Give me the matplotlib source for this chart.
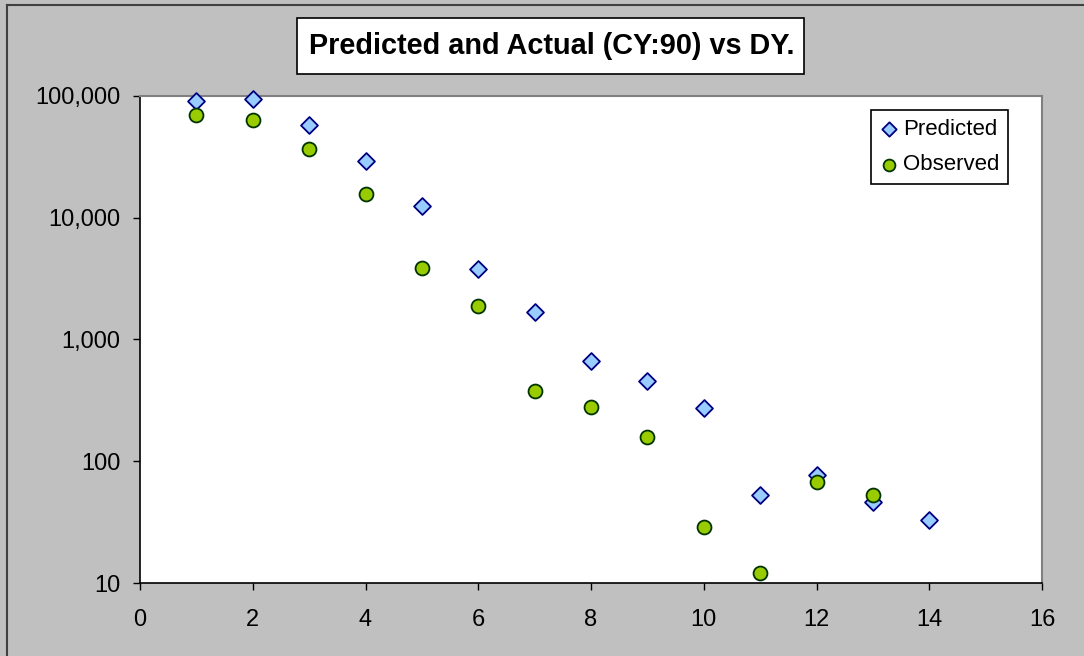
import matplotlib
matplotlib.use("Agg")
import matplotlib.pyplot as plt
from matplotlib.lines import Line2D
from matplotlib.patches import Rectangle
from matplotlib.ticker import FuncFormatter, FixedLocator, NullLocator

plt.rcParams['font.family'] = ['Liberation Sans', 'DejaVu Sans']

# development year vs. claim amounts for CY 90
dev_years_pred = [1, 2, 3, 4, 5, 6, 7, 8, 9, 10, 11, 12, 13, 14]
predicted = [91000, 94500, 57800, 29200, 12500, 3800, 1680, 666, 456, 274, 53, 77, 46, 33]

dev_years_obs = [1, 2, 3, 4, 5, 6, 7, 8, 9, 10, 11, 12, 13]
observed = [69800, 63500, 36700, 15700, 3860, 1880, 378, 279, 158, 28.8, 12.1, 67.6, 52.8]

title = "Predicted and Actual (CY:90) vs DY."
x_ticks = [0, 2, 4, 6, 8, 10, 12, 14, 16]
y_ticks = [10, 100, 1000, 10000, 100000]

W, H = 1084, 656
fig = plt.figure(figsize=(W / 100, H / 100), dpi=100, facecolor='#C0C0C0')

# outer chart border, only the top and left edges sit inside the image
fig.lines.append(Line2D([7 / W, 7 / W], [0, 1 - 5 / H], transform=fig.transFigure,
                        color='#404040', linewidth=1.5))
fig.lines.append(Line2D([7 / W, 1], [1 - 5 / H, 1 - 5 / H], transform=fig.transFigure,
                        color='#404040', linewidth=1.5))

ax = fig.add_axes([140 / W, 1 - 583 / H, (1042 - 140) / W, (583 - 96) / H])
ax.set_facecolor('white')

ax.scatter(dev_years_pred, predicted, marker='D', s=8.6 ** 2, facecolor='#99CCFF',
           edgecolor='#000080', linewidth=1.3, label='Predicted', zorder=3, clip_on=False)
ax.scatter(dev_years_obs, observed, marker='o', s=10 ** 2, facecolor='#99CC00',
           edgecolor='#003300', linewidth=1.3, label='Observed', zorder=3, clip_on=False)

ax.set_yscale('log')
ax.set_xlim(0, 16)
ax.set_ylim(10, 100000)
ax.xaxis.set_major_locator(FixedLocator(x_ticks))
ax.yaxis.set_major_locator(FixedLocator(y_ticks))
ax.yaxis.set_minor_locator(NullLocator())
ax.yaxis.set_major_formatter(FuncFormatter(lambda v, p: f"{int(round(v)):,}"))

ax.tick_params(axis='both', direction='out', length=5, width=1, color='black',
               labelsize=17, labelcolor='black')
ax.tick_params(axis='x', pad=14)
ax.tick_params(axis='y', pad=9)

for side in ('top', 'right'):
    ax.spines[side].set_color('#808080')
    ax.spines[side].set_linewidth(1.5)
for side in ('left', 'bottom'):
    ax.spines[side].set_color('black')
    ax.spines[side].set_linewidth(1.2)

# title in a white framed box
fig.patches.append(Rectangle((297 / W, 1 - 74 / H), (804 - 297) / W, (74 - 18) / H,
                             transform=fig.transFigure, facecolor='white',
                             edgecolor='black', linewidth=1.2))
fig.text(552 / W, 1 - 46 / H, title, ha='center', va='center',
         fontsize=20.8, fontweight='bold', color='black')

leg = ax.legend(loc='upper left', bbox_to_anchor=(871 / W, 1 - 110 / H),
                bbox_transform=fig.transFigure, fontsize=16, frameon=True,
                fancybox=False, framealpha=1, edgecolor='black', borderpad=0.4,
                handletextpad=0.25, handlelength=0.8, labelspacing=0.65,
                markerscale=0.85, borderaxespad=0)
leg.get_frame().set_linewidth(1.2)

fig.savefig('out.png', dpi=100, facecolor=fig.get_facecolor())
